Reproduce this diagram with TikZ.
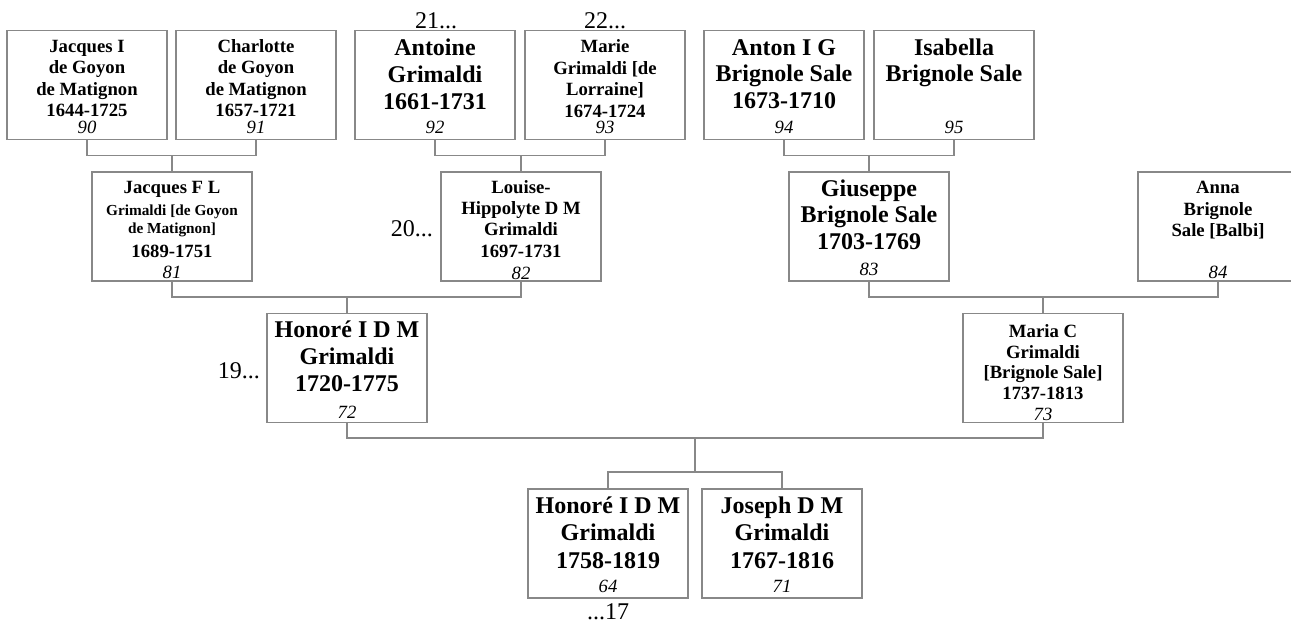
\documentclass[tikz,border=0pt]{standalone}
\usepackage{fontspec}
\setmainfont{Liberation Serif}
\definecolor{linegray}{RGB}{136,136,136}
\newcommand{\lns}[1]{\begin{tabular}[t]{@{}c@{}}#1\end{tabular}}
\tikzset{
  pbox/.style={draw=linegray, line width=1.2pt, fill=white, minimum width=160pt, minimum height=109pt, inner sep=0pt},
  conn/.style={draw=linegray, line width=1.2pt},
  tx/.style={anchor=base, inner sep=0pt},
  big/.style={tx, font=\fontsize{24}{27.2}\selectfont\bfseries},
  small/.style={tx, font=\fontsize{18.7}{21.5}\selectfont\bfseries},
  tiny/.style={tx, font=\fontsize{15.3}{18}\selectfont\bfseries},
  num/.style={anchor=base, inner sep=0pt, font=\fontsize{18.7}{21}\selectfont\itshape},
  lab/.style={inner sep=0pt, font=\fontsize{24}{27}\selectfont}
}
\begin{document}
\begin{tikzpicture}[x=1pt, y=-1pt]
\useasboundingbox (0,0) rectangle (1291,625);
\clip (0,0) rectangle (1291,625);
\fill[white] (0,0) rectangle (1291,625);

% row 1
\node[pbox] (b90) at (87,85) {};
\node[small] (t90) at (87,52) {\lns{Jacques I\\de Goyon\\de Matignon\\1644-1725}};
\node[num] (n90) at (87,133) {90};
\node[pbox] (b91) at (256,85) {};
\node[small] (t91) at (256,52) {\lns{Charlotte\\de Goyon\\de Matignon\\1657-1721}};
\node[num] (n91) at (256,133) {91};
\node[pbox] (b92) at (435,85) {};
\node[big] (t92) at (435,55) {\lns{Antoine\\Grimaldi\\1661-1731}};
\node[num] (n92) at (435,133) {92};
\node[pbox] (b93) at (605,85) {};
\node[small] (t93) at (605,52.5) {\lns{Marie\\Grimaldi {[}de\\Lorraine{]}\\1674-1724}};
\node[num] (n93) at (605,133) {93};
\node[pbox] (b94) at (784,85) {};
\node[big, font=\fontsize{24}{26.7}\selectfont\bfseries] (t94) at (784,55) {\lns{Anton I G\\Brignole Sale\\1673-1710}};
\node[num] (n94) at (784,133) {94};
\node[pbox] (b95) at (954,85) {};
\node[big, font=\fontsize{24}{26.7}\selectfont\bfseries] (t95) at (954,55) {\lns{Isabella\\Brignole Sale}};
\node[num] (n95) at (954,133) {95};

% row 2
\node[pbox] (b81) at (172,226.5) {};
\node[small] (t81a) at (172,193.3) {Jacques F L};
\node[tiny] (t81b) at (172,215) {Grimaldi {[}de Goyon};
\node[tiny] (t81c) at (172,233) {de Matignon{]}};
\node[small] (t81d) at (172,257.3) {1689-1751};
\node[num] (n81) at (172,278) {81};
\node[pbox] (b82) at (521,226.5) {};
\node[small, font=\fontsize{18.7}{21.3}\selectfont\bfseries] (t82) at (521,193.3) {\lns{Louise-\\Hippolyte D M\\Grimaldi\\1697-1731}};
\node[num] (n82) at (521,279) {82};
\node[pbox] (b83) at (869,226.5) {};
\node[big, font=\fontsize{24}{26.7}\selectfont\bfseries] (t83) at (869,196) {\lns{Giuseppe\\Brignole Sale\\1703-1769}};
\node[num] (n83) at (869,275) {83};
\node[pbox] (b84) at (1218,226.5) {};
\node[small, font=\fontsize{18.7}{21.7}\selectfont\bfseries] (t84) at (1218,193.3) {\lns{Anna\\Brignole\\Sale {[}Balbi{]}}};
\node[num] (n84) at (1218,278.3) {84};

% row 3
\node[pbox] (b72) at (347,368) {};
\node[big] (t72) at (347,337.3) {\lns{Honoré I D M\\Grimaldi\\1720-1775}};
\node[num] (n72) at (347,418.3) {72};
\node[pbox] (b73) at (1043,368) {};
\node[small, font=\fontsize{18.7}{20.7}\selectfont\bfseries] (t73) at (1043,337.3) {\lns{Maria C\\Grimaldi\\{[}Brignole Sale{]}\\1737-1813}};
\node[num] (n73) at (1043,420.7) {73};

% row 4
\node[pbox] (b64) at (608,543.5) {};
\node[big, font=\fontsize{24}{27.5}\selectfont\bfseries] (t64) at (608,513.3) {\lns{Honoré I D M\\Grimaldi\\1758-1819}};
\node[num] (n64) at (608,592.3) {64};
\node[pbox] (b71) at (782,543.5) {};
\node[big, font=\fontsize{24}{27.5}\selectfont\bfseries] (t71) at (782,513.3) {\lns{Joseph D M\\Grimaldi\\1767-1816}};
\node[num] (n71) at (782,592.3) {71};

% generation labels
\node[lab, anchor=base] (l21) at (436,28) {21...};
\node[lab, anchor=base] (l22) at (605,28) {22...};
\node[lab, anchor=base east] (l20) at (433,236) {20...};
\node[lab, anchor=base east] (l19) at (260,378) {19...};
\node[lab, anchor=base] (l17) at (608,619) {...17};

% junctions
\coordinate (j1) at (172,155.5);
\coordinate (j2) at (521,155.5);
\coordinate (j3) at (869,155.5);
\coordinate (j4) at (347,297);
\coordinate (j5) at (1043,297);
\coordinate (j6) at (695,438);
\coordinate (j7) at (695,472);

% connectors
\draw[conn] (b90.south) |- (j1) -| (b91.south);
\draw[conn] (j1) -- (b81.north);
\draw[conn] (b92.south) |- (j2) -| (b93.south);
\draw[conn] (j2) -- (b82.north);
\draw[conn] (b94.south) |- (j3) -| (b95.south);
\draw[conn] (j3) -- (b83.north);
\draw[conn] (b81.south) |- (j4) -| (b82.south);
\draw[conn] (j4) -- (b72.north);
\draw[conn] (b83.south) |- (j5) -| (b84.south);
\draw[conn] (j5) -- (b73.north);
\draw[conn] (b72.south) |- (j6) -| (b73.south);
\draw[conn] (j6) -- (j7);
\draw[conn] (b64.north) |- (j7) -| (b71.north);
\end{tikzpicture}
\end{document}
